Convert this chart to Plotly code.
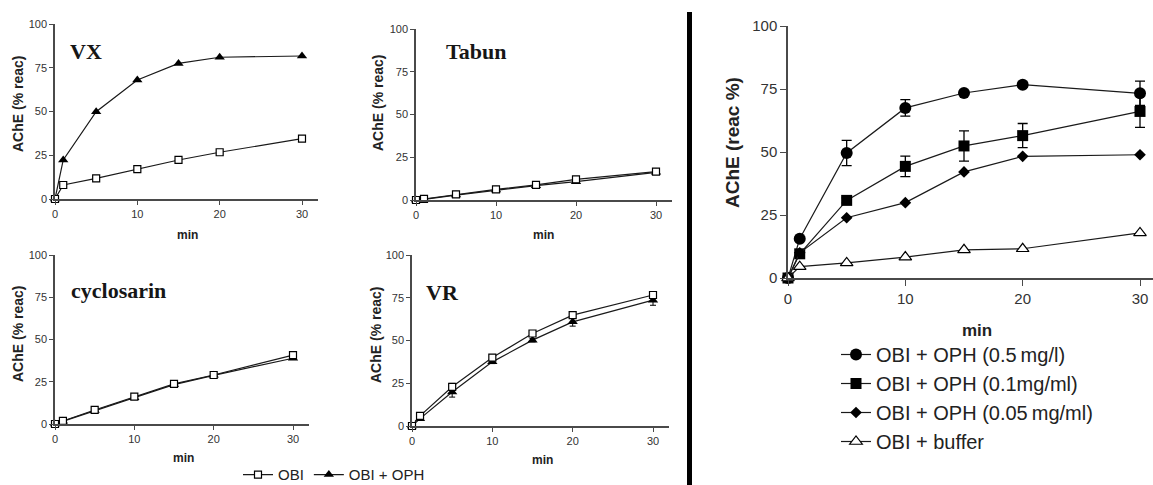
import plotly.graph_objects as go

W, H = 1153, 485

time_min = [0, 1, 5, 10, 15, 20, 30]

# Small panels: OBI (open squares) and OBI + OPH (filled triangles)
vx_obi = [0, 8.0, 11.8, 17.1, 22.3, 26.7, 34.5]
vx_obi_oph = [0, 22.3, 49.9, 68.0, 77.5, 81.0, 81.7]
tabun_obi = [0, 0.6, 3.3, 6.2, 8.8, 12.1, 16.6]
tabun_obi_oph = [0, 0.4, 2.9, 5.8, 8.4, 10.7, 16.2]
cyclosarin_obi = [0, 1.8, 8.3, 16.2, 23.7, 29.0, 40.8]
cyclosarin_obi_oph = [0, 1.6, 8.0, 15.6, 23.3, 28.8, 38.9]
vr_obi = [0, 5.9, 22.9, 40.0, 54.1, 64.8, 76.6]
vr_obi_err = [0, 0.5, 2.0, 1.0, 1.0, 1.0, 1.5]
vr_obi_oph = [0, 4.3, 19.9, 37.5, 50.2, 60.9, 73.6]
vr_obi_oph_err = [0, 0.5, 3.0, 1.0, 1.0, 2.5, 3.0]

# Right panel
oph_05 = [0, 15.6, 49.6, 67.5, 73.4, 76.7, 73.3]
oph_05_err = [0, 0.5, 5.0, 3.3, 0.8, 1.0, 4.8]
oph_01 = [0, 9.6, 30.8, 44.3, 52.4, 56.5, 66.1]
oph_01_err = [0, 0.5, 1.0, 4.1, 6.0, 4.8, 6.3]
oph_005 = [0, 10.0, 23.9, 29.9, 42.1, 48.3, 48.9]
buffer = [0, 4.5, 6.0, 8.3, 11.2, 11.6, 17.9]

left_labels = ["OBI", "OBI + OPH"]
right_labels = ["OBI + OPH (0.5\u2009mg/l)", "OBI + OPH (0.1mg/ml)",
                "OBI + OPH (0.05\u2009mg/ml)", "OBI + buffer"]
panel_names = ["VX", "Tabun", "cyclosarin", "VR"]
y_ticks = [0, 25, 50, 75, 100]
x_ticks = [0, 10, 20, 30]

def px_x(p):
    return p / W

def px_y(p):
    return 1 - p / H

# pixel geometry per panel: (x0px, x30px, y100px, y0px)
geo = {
    1: (55, 302, 24, 199),
    2: (416, 656, 29, 200),
    3: (55, 293, 255, 424),
    4: (412, 653, 255, 426),
}

fig = go.Figure()
LINE = "#1a1a1a"
AX = "#4a4a4a"

small_data = [
    (vx_obi, None, vx_obi_oph, None),
    (tabun_obi, None, tabun_obi_oph, None),
    (cyclosarin_obi, None, cyclosarin_obi_oph, None),
    (vr_obi, vr_obi_err, vr_obi_oph, vr_obi_oph_err),
]

for i, (obi, obi_e, oph, oph_e) in enumerate(small_data, start=1):
    xa = "x" if i == 1 else f"x{i}"
    ya = "y" if i == 1 else f"y{i}"
    fig.add_trace(go.Scatter(
        x=time_min, y=oph, mode="lines+markers", name=left_labels[1],
        xaxis=xa, yaxis=ya, cliponaxis=False, legend="legend2",
        showlegend=(i == 1), legendrank=2,
        line=dict(color=LINE, width=1.2),
        marker=dict(symbol="triangle-up", size=9, color="black"),
        error_y=dict(type="data", array=oph_e, visible=oph_e is not None,
                     color="black", thickness=1, width=3),
    ))
    fig.add_trace(go.Scatter(
        x=time_min, y=obi, mode="lines+markers", name=left_labels[0],
        xaxis=xa, yaxis=ya, cliponaxis=False, legend="legend2",
        showlegend=(i == 1), legendrank=1,
        line=dict(color=LINE, width=1.2),
        marker=dict(symbol="square", size=7, color="white",
                    line=dict(color="black", width=1.2)),
        error_y=dict(type="data", array=obi_e, visible=obi_e is not None,
                     color="black", thickness=1, width=3),
    ))

right_series = [
    (oph_05, oph_05_err, dict(symbol="circle", size=12, color="black")),
    (oph_01, oph_01_err, dict(symbol="square", size=11, color="black")),
    (oph_005, None, dict(symbol="diamond", size=9, color="black")),
    (buffer, None, dict(symbol="triangle-up", size=11, color="white",
                        line=dict(color="black", width=1.2))),
]
for k, (vals, err, mk) in enumerate(right_series):
    fig.add_trace(go.Scatter(
        x=time_min, y=vals, mode="lines+markers", name=right_labels[k],
        xaxis="x5", yaxis="y5", cliponaxis=False, legend="legend",
        legendrank=k + 1,
        line=dict(color=LINE, width=1.2), marker=mk,
        error_y=dict(type="data", array=err, visible=err is not None,
                     color="black", thickness=1.3, width=5),
    ))

layout = dict(
    width=W, height=H,
    margin=dict(l=0, r=0, t=0, b=0, pad=0, autoexpand=False),
    paper_bgcolor="white", plot_bgcolor="white",
    font=dict(family="Liberation Sans, Arial", color="#333"),
    showlegend=True,
)

def axis_common(size, ticklen):
    return dict(showgrid=False, zeroline=False, showline=True,
                linecolor=AX, linewidth=1.5, ticks="outside",
                ticklen=ticklen, tickwidth=1.2, tickcolor=AX,
                tickfont=dict(size=size, color="#333", family="Liberation Sans, Arial"),
                fixedrange=True, automargin=False)

for i, (x0, x30, y100, y0) in geo.items():
    xr_end = 32
    x_end = x0 + (x30 - x0) * xr_end / 30
    xk = "xaxis" if i == 1 else f"xaxis{i}"
    yk = "yaxis" if i == 1 else f"yaxis{i}"
    ya = "y" if i == 1 else f"y{i}"
    xa = "x" if i == 1 else f"x{i}"
    layout[xk] = dict(axis_common(11, 4), domain=[px_x(x0), px_x(x_end)],
                      range=[0, xr_end], tickvals=x_ticks, anchor=ya)
    layout[yk] = dict(axis_common(11, 4), domain=[px_y(y0), px_y(y100)],
                      range=[0, 100], tickvals=y_ticks, anchor=xa)

# right panel
rx0, rx30, ry100, ry0 = 788, 1140, 26, 278
r_end = 30 * (W - rx0) / (rx30 - rx0)
layout["xaxis5"] = dict(axis_common(15, 6), domain=[px_x(rx0), 1.0],
                        range=[0, r_end], tickvals=x_ticks, anchor="y5")
layout["yaxis5"] = dict(axis_common(15, 6), domain=[px_y(ry0), px_y(ry100)],
                        range=[0, 100], tickvals=y_ticks, anchor="x5")

layout["legend"] = dict(x=px_x(836), y=px_y(335), xanchor="left", yanchor="top",
                        orientation="v", font=dict(size=20, color="#222"),
                        bgcolor="rgba(0,0,0,0)", tracegroupgap=0,
                        itemwidth=30, traceorder="normal")
layout["legend2"] = dict(x=px_x(238), y=-0.013, xanchor="left", yanchor="bottom",
                         orientation="h", font=dict(size=15, color="#222"),
                         bgcolor="rgba(0,0,0,0)", itemwidth=30,
                         traceorder="normal")

fig.update_layout(**layout)

def note(text, x, y, size, angle=0, family=None, color="#222"):
    f = dict(size=size, color=color)
    if family:
        f["family"] = family
    return dict(text=text, x=px_x(x), y=px_y(y), xref="paper", yref="paper",
                xanchor="center", yanchor="middle", showarrow=False,
                textangle=angle, font=f)

ann = []
title_pos = [(86, 52), (476, 52), (118, 290), (442, 292)]
for name, (tx, ty) in zip(panel_names, title_pos):
    ann.append(note(f"<b>{name}</b>", tx, ty, 22,
                    family="Liberation Serif, DejaVu Serif", color="#161616"))
ylab_pos = [(18, 104), (378, 103), (18, 334), (376, 335)]
for (lx, ly) in ylab_pos:
    ann.append(note("<b>AChE (% reac)</b>", lx, ly, 14, angle=-90))
min_pos = [(187, 235), (543, 235), (183, 458), (542, 460)]
for (mx, my) in min_pos:
    ann.append(note("<b>min</b>", mx, my, 12))
ann.append(note("<b>AChE (reac %)</b>", 732, 143, 19, angle=-90))
ann.append(note("<b>min</b>", 977, 330, 17))
fig.update_layout(annotations=ann)

fig.add_shape(type="line", xref="paper", yref="paper",
              x0=px_x(689.5), x1=px_x(689.5), y0=px_y(12), y1=px_y(485),
              line=dict(color="black", width=5))

fig.write_html(
    "out.html",
    config={"displayModeBar": False},
    post_script="document.body.style.margin='0';document.body.style.overflow='hidden';",
)
